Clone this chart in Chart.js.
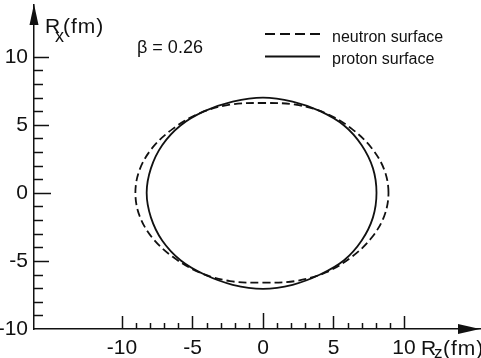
<!DOCTYPE html>
<html><head><meta charset="utf-8">
<script src="https://cdn.jsdelivr.net/npm/chart.js@4/dist/chart.umd.min.js"></script>
<style>html,body{margin:0;padding:0;background:#fff;overflow:hidden}#wrap{width:481px;height:358px;position:relative}</style>
</head><body><div id="wrap"><canvas id="c"></canvas></div>
<script>
// R_z (horizontal) and R_x (vertical) values, in fm (closed contours)
const neutronZ = [8.9, 8.6, 7.7, 6.3, 4.45, 2.3, 0, -2.35, -4.5, -6.4, -7.85, -8.75, -9.05, -8.75, -7.85, -6.4, -4.5, -2.35, 0, 2.3, 4.45, 6.3, 7.7, 8.6];
const neutronX = [0, 1.7, 3.3, 4.7, 5.85, 6.48, 6.6, 6.48, 5.85, 4.7, 3.3, 1.7, 0, -1.7, -3.3, -4.7, -5.85, -6.48, -6.6, -6.48, -5.85, -4.7, -3.3, -1.7];
const protonZ = [8.05, 7.8, 7.0, 5.75, 4.05, 2.1, 0, -2.15, -4.15, -5.85, -7.15, -7.95, -8.25, -7.95, -7.15, -5.85, -4.15, -2.15, 0, 2.1, 4.05, 5.75, 7.0, 7.8];
const protonX = [0, 1.8, 3.5, 4.95, 6.0, 6.7, 7.0, 6.7, 6.0, 4.95, 3.5, 1.8, 0, -1.8, -3.5, -4.95, -6.0, -6.75, -7.05, -6.75, -6.0, -4.95, -3.5, -1.8];
const seriesLabels = ['neutron surface', 'proton surface'];
const xTickValues = [-10, -5, 0, 5, 10];
const yTickValues = [-10, -5, 0, 5, 10];
const xMinorRange = [-10, 10];
const yMinorRange = [-9, 10];
const xAxisTitle = ['R', 'z', '(fm)'];
const yAxisTitle = ['R', 'x', '(fm)'];
const betaText = 'β = 0.26';

const toPts = (zs, xs) => zs.map((z, i) => ({x: z, y: xs[i]}));
const NARROW = '"Liberation Sans Narrow", "Liberation Sans", Arial, sans-serif';
const SANS = '"Liberation Sans", Arial, sans-serif';

// make each contour a closed smooth loop
const closeLoops = {
  id: 'closeLoops',
  afterDatasetsUpdate(chart) {
    chart.data.datasets.forEach((d, i) => {
      const el = chart.getDatasetMeta(i).dataset;
      if (!el) return;
      el._loop = true; el._fullLoop = true;
      delete el._segments; delete el._path; el._pointsUpdated = false;
    });
  }
};

const decor = {
  id: 'decor',
  afterDraw(chart) {
    const ctx = chart.ctx, xs = chart.scales.x, ys = chart.scales.y, a = chart.chartArea;
    ctx.save();
    ctx.strokeStyle = '#111'; ctx.fillStyle = '#111'; ctx.lineWidth = 1.5;
    for (let v = xMinorRange[0]; v <= xMinorRange[1]; v++) {
      const px = Math.round(xs.getPixelForValue(v)) + 0.5;
      const len = v % 5 === 0 ? (v === 0 ? 16 : 13) : 6;
      ctx.beginPath(); ctx.moveTo(px, a.bottom); ctx.lineTo(px, a.bottom - len); ctx.stroke();
    }
    for (let v = yMinorRange[0]; v <= yMinorRange[1]; v++) {
      const py = Math.round(ys.getPixelForValue(v)) + 0.5;
      const len = v % 5 === 0 ? (v === 0 ? 17 : 15) : 9;
      ctx.beginPath(); ctx.moveTo(a.left, py); ctx.lineTo(a.left + len, py); ctx.stroke();
    }
    ctx.beginPath(); ctx.moveTo(a.left, a.top - 1); ctx.lineTo(a.left - 4.5, a.top + 20); ctx.lineTo(a.left + 4.5, a.top + 20); ctx.closePath(); ctx.fill();
    ctx.beginPath(); ctx.moveTo(a.right, a.bottom); ctx.lineTo(a.right - 22, a.bottom - 5); ctx.lineTo(a.right - 22, a.bottom + 5); ctx.closePath(); ctx.fill();
    ctx.textBaseline = 'alphabetic'; ctx.textAlign = 'left';
    try { ctx.letterSpacing = '1px'; } catch (e) {}
    ctx.font = '21px ' + NARROW; ctx.fillText(yAxisTitle[0], 45, 33);
    ctx.font = '18px ' + NARROW; ctx.fillText(yAxisTitle[1], 55, 42);
    ctx.font = '21px ' + NARROW; ctx.fillText(yAxisTitle[2], 63, 33);
    ctx.font = '21px ' + NARROW; ctx.fillText(xAxisTitle[0], 421, 355);
    ctx.font = '17px ' + NARROW; ctx.fillText(xAxisTitle[1], 434, 358);
    ctx.font = '21px ' + NARROW; ctx.fillText(xAxisTitle[2], 443, 355);
    try { ctx.letterSpacing = '0px'; } catch (e) {}
    ctx.font = '18px ' + NARROW; ctx.fillText(betaText, 137, 53);
    const ds = chart.data.datasets;
    const rows = [{y: 34, tb: 42}, {y: 56.5, tb: 64}];
    ds.forEach((d, i) => {
      ctx.lineWidth = 2; ctx.setLineDash(d.borderDash && d.borderDash.length ? [10, 5] : []);
      ctx.beginPath(); ctx.moveTo(265, rows[i].y); ctx.lineTo(320, rows[i].y); ctx.stroke();
      ctx.setLineDash([]);
      ctx.font = '16px ' + SANS; ctx.fillText(d.label, 332, rows[i].tb);
    });
    ctx.restore();
  }
};

new Chart(document.getElementById('c'), {
  type: 'scatter',
  data: {
    datasets: [
      {label: seriesLabels[0], data: toPts(neutronZ, neutronX), showLine: true, spanGaps: true, borderColor: '#111', borderWidth: 1.8, borderDash: [8, 4], pointRadius: 0, tension: 0.35, fill: false},
      {label: seriesLabels[1], data: toPts(protonZ, protonX), showLine: true, spanGaps: true, borderColor: '#111', borderWidth: 1.8, pointRadius: 0, tension: 0.35, fill: false}
    ]
  },
  options: {
    responsive: true, maintainAspectRatio: false, animation: false,
    layout: {padding: {top: 5, right: 1, left: 0, bottom: 0}},
    plugins: {legend: {display: false}, tooltip: {enabled: false}},
    scales: {
      x: {
        type: 'linear', min: -16.24, max: 15.39,
        grid: {display: false, drawTicks: false},
        border: {display: true, color: '#111', width: 1.5},
        afterBuildTicks: s => { s.ticks = xTickValues.map(v => ({value: v})); },
        afterFit: s => { s.height = 29; s.paddingLeft = 0; s.paddingRight = 0; },
        ticks: {color: '#111', padding: 7, font: {family: NARROW, size: 21}, maxRotation: 0, autoSkip: false}
      },
      y: {
        type: 'linear', min: -10, max: 13.8,
        grid: {display: false, drawTicks: false},
        border: {display: true, color: '#111', width: 1.5},
        afterBuildTicks: s => { s.ticks = yTickValues.map(v => ({value: v})); },
        afterFit: s => { s.width = 34; s.paddingTop = 0; s.paddingBottom = 0; },
        ticks: {color: '#111', padding: 6, font: {family: NARROW, size: 21}, autoSkip: false}
      }
    }
  },
  plugins: [closeLoops, decor]
});
</script></body></html>
